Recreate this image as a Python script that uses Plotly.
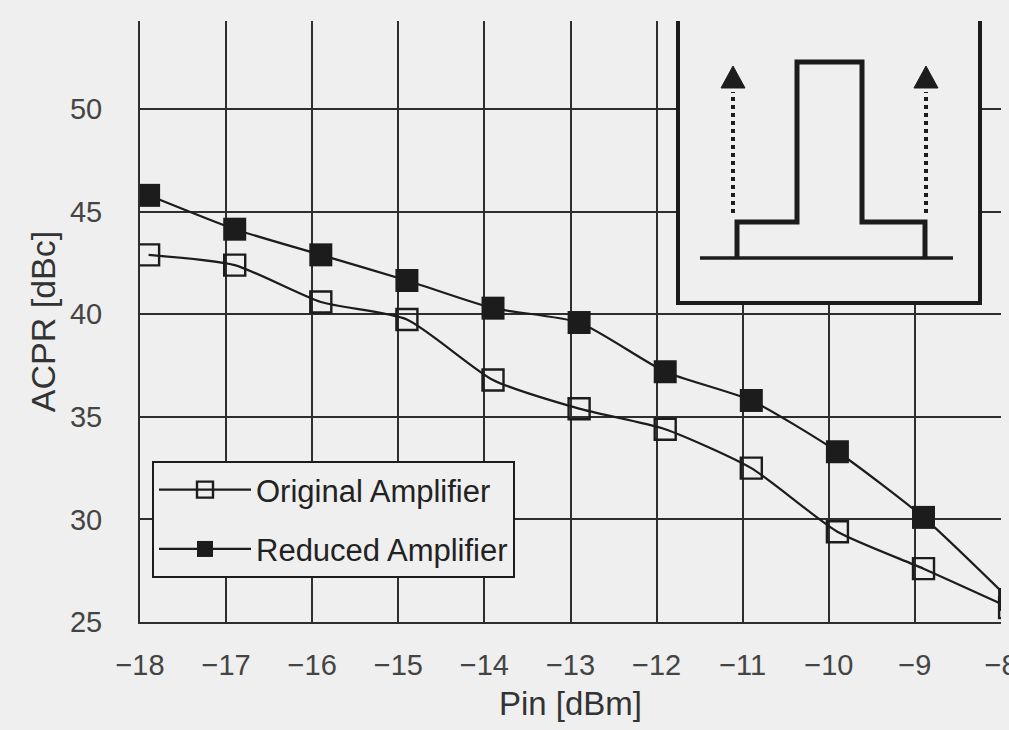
import plotly.graph_objects as go

# ---- data ----
pin_dbm = [-17.9, -16.9, -15.9, -14.9, -13.9, -12.9, -11.9, -10.9, -9.9, -8.9, -7.9]
acpr_original = [42.9, 42.4, 40.6, 39.75, 36.8, 35.4, 34.4, 32.5, 29.4, 27.6, 25.7]
acpr_reduced = [45.8, 44.15, 42.9, 41.65, 40.3, 39.6, 37.2, 35.8, 33.3, 30.1, 26.1]
x_ticks = [-18, -17, -16, -15, -14, -13, -12, -11, -10, -9, -8]
y_ticks = [25, 30, 35, 40, 45, 50]
series_names = ["Original Amplifier", "Reduced Amplifier"]

W, H = 1009, 730
ML, MR, MT, MB = 140, 8, 21, 108
BG = "#efefef"
INK = "#1c1c1c"
GRID = "#2e2e2e"
FONT = "Liberation Sans, Arial, sans-serif"

fig = go.Figure()
fig.add_trace(go.Scatter(
    x=pin_dbm, y=acpr_original, name=series_names[0], mode="lines+markers",
    line=dict(color=INK, width=2.2, shape="spline", smoothing=0.6),
    marker=dict(symbol="square-open", size=21, color=INK, line=dict(width=2.4, color=INK)),
    legendgroup="a",
))
fig.add_trace(go.Scatter(
    x=pin_dbm, y=acpr_reduced, name=series_names[1], mode="lines+markers",
    line=dict(color=INK, width=2.2, shape="spline", smoothing=0.6),
    marker=dict(symbol="square", size=23, color=INK, line=dict(width=0)),
    legendgroup="b",
))

# pixel -> paper helpers for the inset sketch
pw = W - ML - MR
ph = H - MT - MB


def px(x):
    return (x - ML) / pw


def py(y):
    return (H - MB - y) / ph


def path(points, close=False):
    s = "M " + " L ".join(f"{px(a):.5f},{py(b):.5f}" for a, b in points)
    return s + (" Z" if close else "")


shapes = []
# inset background and open-topped frame
shapes.append(dict(type="rect", xref="paper", yref="paper",
                   x0=px(678), x1=px(980), y0=py(303), y1=1.0,
                   fillcolor=BG, line=dict(width=0), layer="above"))
shapes.append(dict(type="path", xref="paper", yref="paper",
                   path=path([(678, 21), (678, 303), (980, 303), (980, 21)]),
                   line=dict(color=INK, width=4), layer="above"))
# baseline
shapes.append(dict(type="line", xref="paper", yref="paper",
                   x0=px(700), x1=px(953), y0=py(258), y1=py(258),
                   line=dict(color=INK, width=3.5), layer="above"))
# spectrum outline
shapes.append(dict(type="path", xref="paper", yref="paper",
                   path=path([(737, 258), (737, 222), (797, 222), (797, 62),
                              (862, 62), (862, 222), (925, 222), (925, 258)]),
                   line=dict(color=INK, width=5), layer="above"))
# dotted arrows
for ax in (733, 926):
    shapes.append(dict(type="line", xref="paper", yref="paper",
                       x0=px(ax), x1=px(ax), y0=py(213), y1=py(92),
                       line=dict(color=INK, width=4, dash="dot"), layer="above"))
    shapes.append(dict(type="path", xref="paper", yref="paper",
                       path=path([(ax, 66), (ax - 12, 88), (ax + 12, 88)], close=True),
                       fillcolor=INK, line=dict(color=INK, width=1), layer="above"))

fig.update_layout(
    width=W, height=H,
    margin=dict(l=ML, r=MR, t=MT, b=MB, autoexpand=False),
    paper_bgcolor=BG, plot_bgcolor=BG,
    font=dict(family=FONT, color="#333333"),
    showlegend=True,
    legend=dict(
        x=px(152), y=py(461), xanchor="left", yanchor="top",
        bgcolor=BG, bordercolor=INK, borderwidth=2,
        font=dict(family=FONT, size=31, color="#222222"),
        itemwidth=92, tracegroupgap=16, traceorder="grouped",
        itemclick=False,
    ),
    shapes=shapes,
    xaxis=dict(
        range=[-18, -8], tickvals=x_ticks,
        ticktext=[f"\u2212{abs(v)}" for v in x_ticks],
        showgrid=True, gridcolor=GRID, gridwidth=1.5,
        showline=True, linecolor=GRID, linewidth=2, mirror=False,
        zeroline=False, ticks="", ticklabelstandoff=16,
        ticklabeloverflow="allow",
        tickfont=dict(family=FONT, size=29, color="#444444"),
        title=dict(text="Pin [dBm]", standoff=12,
                   font=dict(family=FONT, size=33, color="#333333")),
        automargin=False,
    ),
    yaxis=dict(
        range=[25, 54.3], tickvals=y_ticks,
        showgrid=True, gridcolor=GRID, gridwidth=1.5,
        showline=True, linecolor=GRID, linewidth=2, mirror=False,
        zeroline=False, ticks="", ticklabelstandoff=30,
        tickfont=dict(family=FONT, size=29, color="#444444"),
        title=dict(text="ACPR [dBc]", standoff=4,
                   font=dict(family=FONT, size=34, color="#333333")),
        automargin=False,
    ),
)

fig.write_html(
    "out.html",
    config={"displayModeBar": False},
    post_script="document.body.style.margin='0';document.body.style.padding='0';",
)
